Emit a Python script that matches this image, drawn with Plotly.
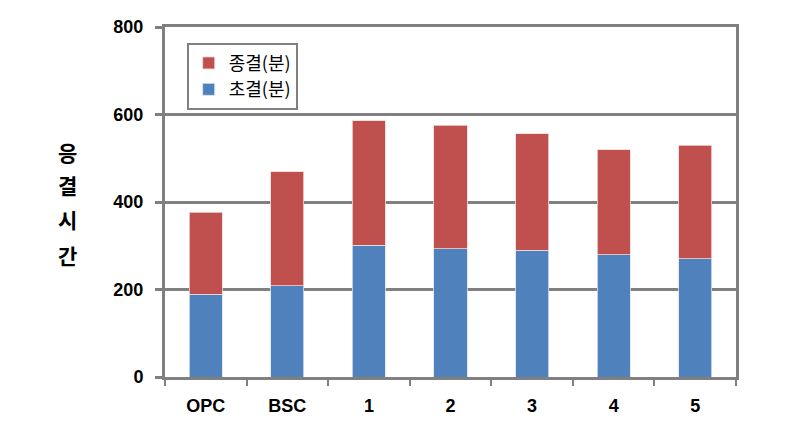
import plotly.graph_objects as go

categories = ["OPC", "BSC", "1", "2", "3", "4", "5"]
initial_set = [189, 209, 301, 293, 290, 280, 270]      # 초결(분) - bottom segment
final_set_seg = [188, 260, 285, 283, 266, 240, 260]    # 종결(분) - top segment
y_ticks = [0, 200, 400, 600, 800]
y_title_chars = ["응", "결", "시", "간"]

GRID = "#808080"

fig = go.Figure()
fig.add_trace(go.Bar(
    x=categories, y=initial_set, name="초결(분)",
    marker=dict(color="#4F81BD", line=dict(color="#dbe3f0", width=0.8)),
))
fig.add_trace(go.Bar(
    x=categories, y=final_set_seg, name="종결(분)",
    marker=dict(color="#C0504D", line=dict(color="#f0d8d8", width=0.8)),
))

fig.update_layout(
    width=788, height=438,
    margin=dict(l=165, r=52, t=27, b=61),
    barmode="stack",
    bargap=0.595,
    plot_bgcolor="white",
    paper_bgcolor="white",
    font=dict(family="Liberation Sans, Noto Sans CJK KR", color="black"),
    legend=dict(
        x=0.038, y=0.955, xanchor="left", yanchor="top",
        traceorder="reversed",
        bordercolor=GRID, borderwidth=2,
        bgcolor="white",
        font=dict(family="Noto Sans CJK KR", size=18, color="black"),
        itemwidth=30,
        tracegroupgap=0,
    ),
    showlegend=True,
)

fig.update_xaxes(
    showline=True, linecolor=GRID, linewidth=3, mirror=True,
    ticks="outside", tickson="boundaries", ticklen=6, tickwidth=2, tickcolor=GRID,
    ticklabelstandoff=10,
    tickfont=dict(family="Liberation Sans", size=18, weight="bold", color="black"),
    showgrid=False,
)
fig.update_yaxes(
    range=[0, 800], tickvals=y_ticks,
    showline=True, linecolor=GRID, linewidth=3, mirror=True,
    showgrid=True, gridcolor=GRID, gridwidth=3,
    ticks="outside", ticklen=7, tickwidth=3, tickcolor=GRID,
    ticklabelstandoff=8,
    tickfont=dict(family="Liberation Sans", size=18, weight="bold", color="black"),
    zeroline=False,
)

for ch, yv in zip(y_title_chars, [515, 440, 362, 280]):
    fig.add_annotation(
        text=ch, xref="paper", yref="y", x=-0.171, y=yv,
        xanchor="center", yanchor="middle", showarrow=False,
        font=dict(family="Noto Sans CJK KR", size=21, weight="bold", color="black"),
    )

fig.write_html("out.html")
